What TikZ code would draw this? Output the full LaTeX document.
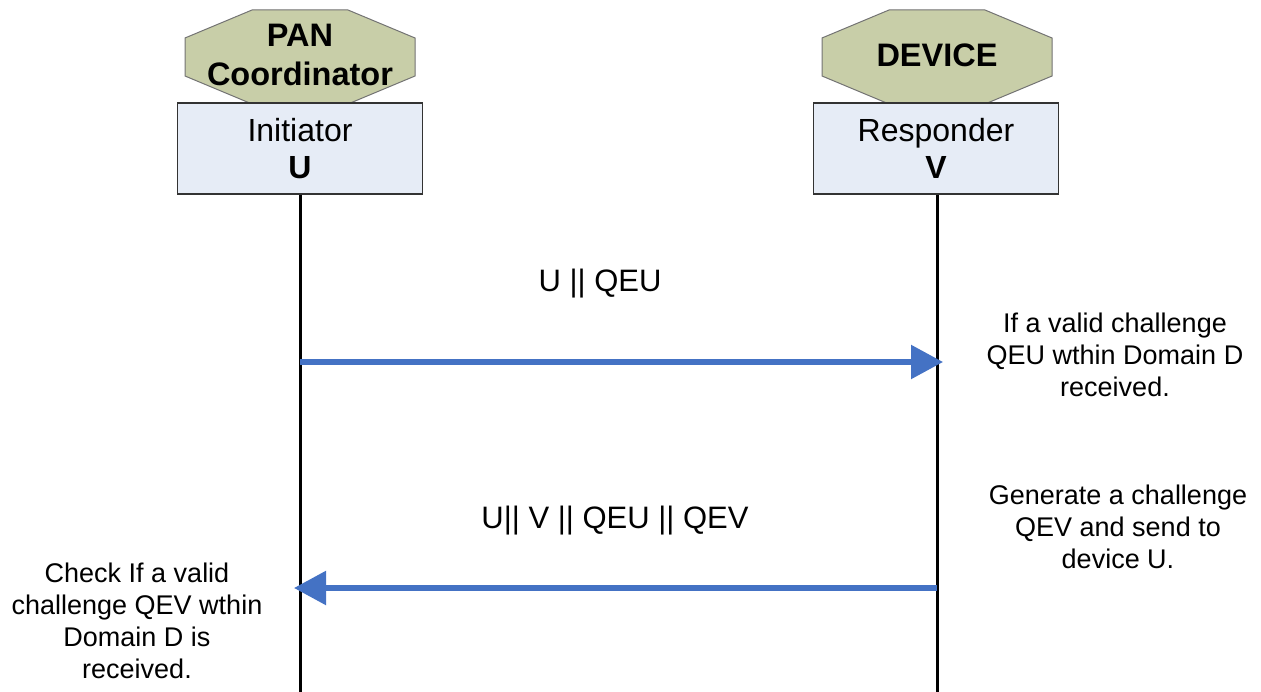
\documentclass[tikz,border=0pt]{standalone}
\usepackage{fontspec}
\setmainfont{Liberation Sans}
\usetikzlibrary{arrows.meta}
\definecolor{octfill}{RGB}{200,206,168}
\definecolor{boxfill}{RGB}{230,236,246}
\definecolor{msgblue}{RGB}{68,114,196}
\tikzset{
  octa/.style={fill=octfill, draw=black!55, line width=1pt},
  rolebox/.style={rectangle, fill=boxfill, draw=black!80, line width=1.5pt, minimum width=245pt, minimum height=91pt, inner sep=0pt, align=center, font=\fontsize{32}{37}\selectfont},
  octtext/.style={inner sep=0pt, align=center, font=\fontsize{32.5}{39}\selectfont\bfseries},
  lifeline/.style={line width=3pt, black},
  msg/.style={line width=5.5pt, msgblue, -{Triangle[length=32pt,width=33pt]}},
  msgtext/.style={inner sep=0pt, font=\fontsize{31}{37}\selectfont},
  note/.style={inner sep=0pt, align=center, font=\fontsize{27}{32}\selectfont}
}
\begin{document}
\begin{tikzpicture}[x=1pt,y=-1pt]
\useasboundingbox (0,0) rectangle (1261,692);
% octagons
\fill[octa] (252,10) -- (348,10) -- (415,38) -- (415,76) -- (348,104) -- (252,104) -- (185,76) -- (185,38) -- cycle;
\fill[octa] (889,10) -- (985,10) -- (1052,38) -- (1052,76) -- (985,104) -- (889,104) -- (822,76) -- (822,38) -- cycle;
\node[octtext] (pan) at (300,55) {PAN\\Coordinator};
\node[octtext] (dev) at (937,55) {DEVICE};
% role boxes
\node[rolebox] (ini) at (300,148.5) {Initiator\\\textbf{U}};
\node[rolebox] (res) at (936,148.5) {Responder\\\textbf{V}};
% lifelines
\coordinate (uend) at (300,692);
\coordinate (vend) at (937,692);
\draw[lifeline] (ini.south) -- (uend);
\draw[lifeline] (res.south -| vend) -- (vend);
% messages
\coordinate (m1s) at (300,362);
\coordinate (m1e) at (943,362);
\coordinate (m2s) at (937,588);
\coordinate (m2e) at (294,588);
\draw[msg] (m1s) -- (m1e);
\draw[msg] (m2s) -- (m2e);
\node[msgtext] (l1) at (600,284) {U || QEU};
\node[msgtext] (l2) at (615,521) {U|| V || QEU || QEV};
% notes
\node[note] (n1) at (1115,355) {If a valid challenge\\QEU wthin Domain D\\received.};
\node[note] (n2) at (1118,527) {Generate a challenge\\QEV and send to\\device U.};
\node[note] (n3) at (137,621) {Check If a valid\\challenge QEV wthin\\Domain D is\\received.};
\end{tikzpicture}
\end{document}
